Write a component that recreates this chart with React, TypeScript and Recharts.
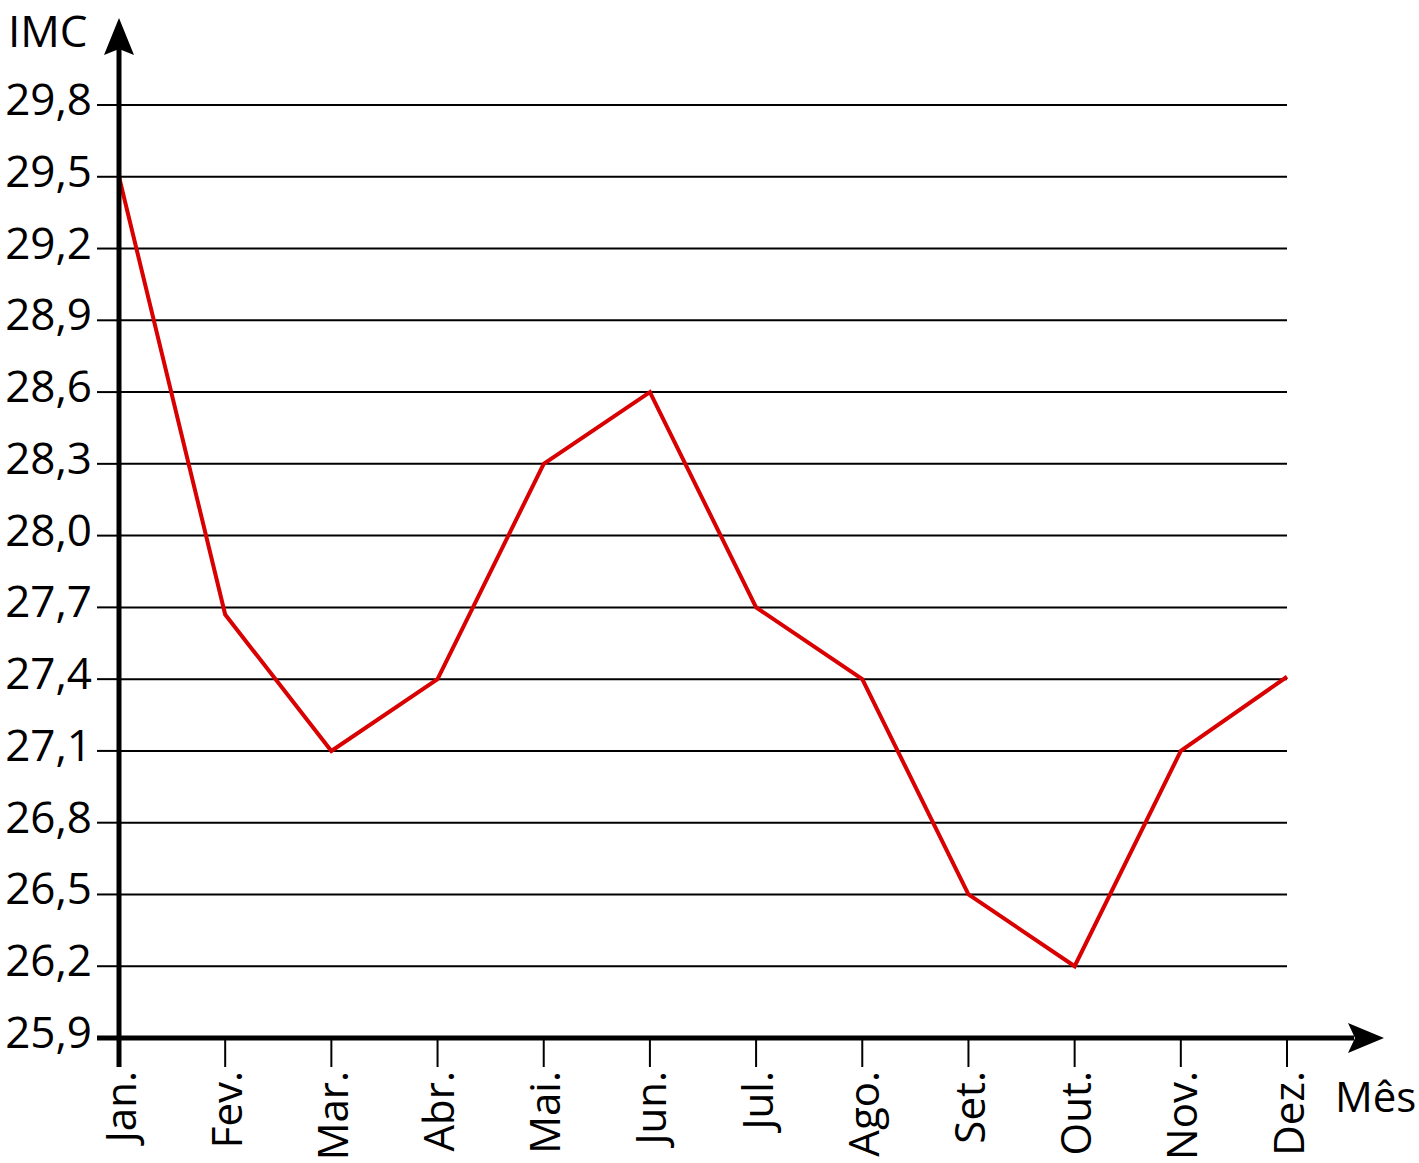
import React from 'react';
import {
  LineChart,
  Line,
  XAxis,
  YAxis,
  CartesianGrid,
  ReferenceLine,
  Label,
} from 'recharts';

// IMC mensal
const months = ['Jan.', 'Fev.', 'Mar.', 'Abr.', 'Mai.', 'Jun.', 'Jul.', 'Ago.', 'Set.', 'Out.', 'Nov.', 'Dez.'];
const imcValues = [29.5, 27.67, 27.1, 27.4, 28.3, 28.6, 27.7, 27.4, 26.5, 26.2, 27.1, 27.41];
const imcTicks = [25.9, 26.2, 26.5, 26.8, 27.1, 27.4, 27.7, 28.0, 28.3, 28.6, 28.9, 29.2, 29.5, 29.8];

const data = months.map((mes, i) => ({ mes, imc: imcValues[i] }));

const FONT = "'Open Sans', sans-serif";
const fmt = (v: number) => v.toFixed(1).replace('.', ',');

const YTick = ({ x, y, payload }: any) => (
  <text x={x} y={y + 10} textAnchor="end" fontSize={44} fill="#000" fontFamily={FONT}>
    {fmt(payload.value)}
  </text>
);

const XTick = ({ x, y, payload }: any) => (
  <text
    x={x}
    y={y}
    transform={`rotate(-90, ${x}, ${y})`}
    textAnchor="end"
    dominantBaseline="central"
    fontSize={42}
    fill="#000"
    fontFamily={FONT}
  >
    {payload.value}
  </text>
);

// eixo horizontal com seta
const XArrow = (props: any) => {
  const { x1, x2, y1 } = props;
  const left = Math.min(x1, x2) - 22;
  const tip = Math.max(x1, x2) + 97;
  return (
    <g>
      <line x1={left} y1={y1} x2={tip - 30} y2={y1} stroke="#000" strokeWidth={5} />
      <polygon
        points={`${tip},${y1} ${tip - 36},${y1 - 15} ${tip - 29},${y1} ${tip - 36},${y1 + 15}`}
        fill="#000"
      />
    </g>
  );
};

// eixo vertical com seta
const YArrow = (props: any) => {
  const { x1, y1, y2 } = props;
  const top = Math.min(y1, y2);
  const bottom = Math.max(y1, y2) + 29;
  const tip = top - 87;
  return (
    <g>
      <line x1={x1} y1={bottom} x2={x1} y2={tip + 30} stroke="#000" strokeWidth={5} />
      <polygon
        points={`${x1},${tip} ${x1 + 15},${tip + 37} ${x1},${tip + 31} ${x1 - 15},${tip + 37}`}
        fill="#000"
      />
    </g>
  );
};

const App: React.FC = () => (
  <div style={{ position: 'absolute', left: 0, top: 0, fontFamily: FONT, background: '#fff' }}>
    <LineChart
      width={1419}
      height={1163}
      data={data}
      margin={{ top: 105, right: 132, bottom: 0, left: 0 }}
    >
      <CartesianGrid horizontal vertical={false} stroke="#000" strokeWidth={2} />
      <XAxis
        dataKey="mes"
        height={125}
        axisLine={false}
        tickLine={{ stroke: '#000', strokeWidth: 2 }}
        tickSize={29}
        tickMargin={4}
        tick={<XTick />}
        interval={0}
      >
        <Label
          content={() => (
            <text x={1335} y={1112} fontSize={42} fill="#000" fontFamily={FONT}>
              Mês
            </text>
          )}
        />
      </XAxis>
      <YAxis
        type="number"
        domain={[25.9, 29.8]}
        ticks={imcTicks}
        width={119}
        axisLine={false}
        tickLine={{ stroke: '#000', strokeWidth: 2 }}
        tickSize={22}
        tickMargin={5}
        tick={<YTick />}
        interval={0}
      >
        <Label
          content={() => (
            <text x={8} y={47} fontSize={44} fill="#000" fontFamily={FONT}>
              IMC
            </text>
          )}
        />
      </YAxis>
      <Line
        type="linear"
        dataKey="imc"
        stroke="#d80000"
        strokeWidth={4}
        dot={false}
        activeDot={false}
        isAnimationActive={false}
      />
      <ReferenceLine y={25.9} ifOverflow="visible" shape={<XArrow />} />
      <ReferenceLine x="Jan." ifOverflow="visible" shape={<YArrow />} />
    </LineChart>
  </div>
);

export default App;
